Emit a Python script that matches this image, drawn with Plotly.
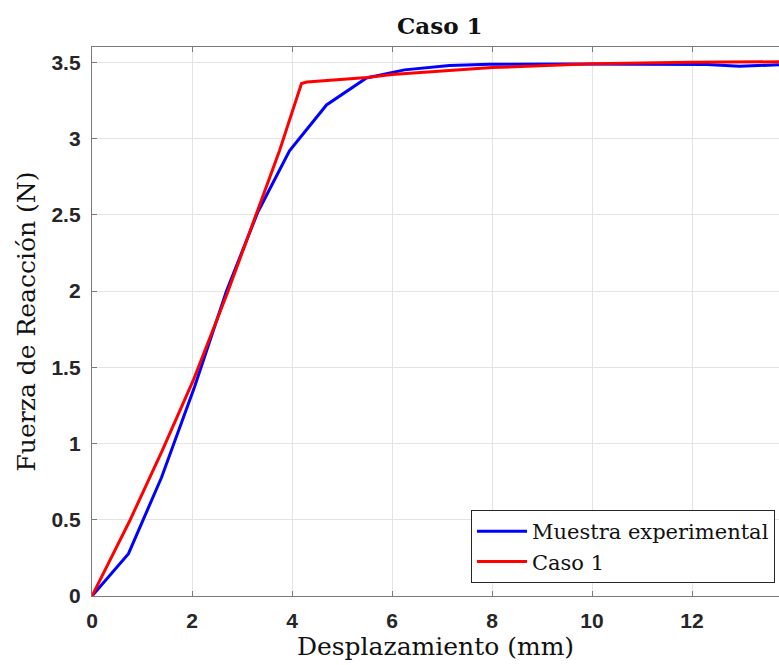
import plotly.graph_objects as go

# Experimental specimen: displacement (mm) vs reaction force (N)
exp_x = [0.0, 0.73, 1.39, 2.05, 2.69, 3.32, 3.95, 4.69, 5.49, 6.25, 7.15, 7.95,
         9.5, 11.0, 12.3, 12.95, 13.74]
exp_y = [0.0, 0.278, 0.777, 1.37, 2.0, 2.52, 2.92, 3.22, 3.397, 3.45, 3.478, 3.487,
         3.488, 3.487, 3.486, 3.474, 3.483]

# Simulation, case 1
sim_x = [0.0, 0.75, 1.4, 2.02, 2.7, 3.3, 3.75, 4.19, 4.3, 5.5, 6.0, 8.0, 10.0, 12.0, 13.74]
sim_y = [0.0, 0.49, 0.95, 1.41, 1.98, 2.52, 2.92, 3.36, 3.37, 3.40, 3.42, 3.465, 3.49, 3.50, 3.503]

x_ticks = [0, 2, 4, 6, 8, 10, 12]
y_ticks = [0, 0.5, 1, 1.5, 2, 2.5, 3, 3.5]
y_tick_text = ["0", "0.5", "1", "1.5", "2", "2.5", "3", "3.5"]

SERIF = "DejaVu Serif"
SANS = "Liberation Sans"
AXIS_COLOR = "#7a7a7a"
TEXT_COLOR = "#262626"

# Plot area in pixels
L, R, T, B = 92, 779, 47, 596
W, H = 779, 665

fig = go.Figure()
fig.add_trace(go.Scatter(x=exp_x, y=exp_y, mode="lines", name="Muestra experimental",
                         line=dict(color="#0000ff", width=3)))
fig.add_trace(go.Scatter(x=sim_x, y=sim_y, mode="lines", name="Caso 1",
                         line=dict(color="#ff0000", width=3)))

fig.update_layout(
    width=W, height=H,
    margin=dict(l=L, r=W - R, t=T, b=H - B),
    paper_bgcolor="white", plot_bgcolor="white",
    showlegend=True,
    legend=dict(
        x=(775 - L) / (R - L), y=(B - 583) / (B - T),
        xanchor="right", yanchor="bottom",
        bgcolor="white", bordercolor="#262626", borderwidth=1,
        font=dict(family=SERIF, size=21, color="#111111"),
        tracegroupgap=0, itemwidth=50,
    ),
    annotations=[
        dict(text="<b>Caso 1</b>",
             x=(440 - L) / (R - L), y=(B - 26) / (B - T),
             xref="paper", yref="paper", xanchor="center", yanchor="middle",
             showarrow=False, font=dict(family=SERIF, size=23, color="#111111")),
    ],
)

fig.update_xaxes(
    range=[0, 13.74], tickvals=x_ticks, ticktext=[str(v) for v in x_ticks],
    showgrid=True, gridcolor="#e3e3e3", gridwidth=1,
    showline=True, linecolor=AXIS_COLOR, linewidth=1.3, mirror="ticks",
    ticks="inside", ticklen=5, tickcolor=AXIS_COLOR, tickwidth=1,
    ticklabelstandoff=6,
    tickfont=dict(family=SANS, size=21, color=TEXT_COLOR, weight="bold"),
    zeroline=False,
    title=dict(text="Desplazamiento (mm)", standoff=5,
               font=dict(family=SERIF, size=25, color="#111111")),
)
fig.update_yaxes(
    range=[0, 3.6], tickvals=y_ticks, ticktext=y_tick_text,
    showgrid=True, gridcolor="#e3e3e3", gridwidth=1,
    showline=True, linecolor=AXIS_COLOR, linewidth=1.3,
    ticks="inside", ticklen=5, tickcolor=AXIS_COLOR, tickwidth=1,
    ticklabelstandoff=6,
    tickfont=dict(family=SANS, size=21, color=TEXT_COLOR, weight="bold"),
    zeroline=False,
    title=dict(text="Fuerza de Reacción (N)", standoff=8,
               font=dict(family=SERIF, size=25, color="#111111")),
)

fig.write_html("out.html")
